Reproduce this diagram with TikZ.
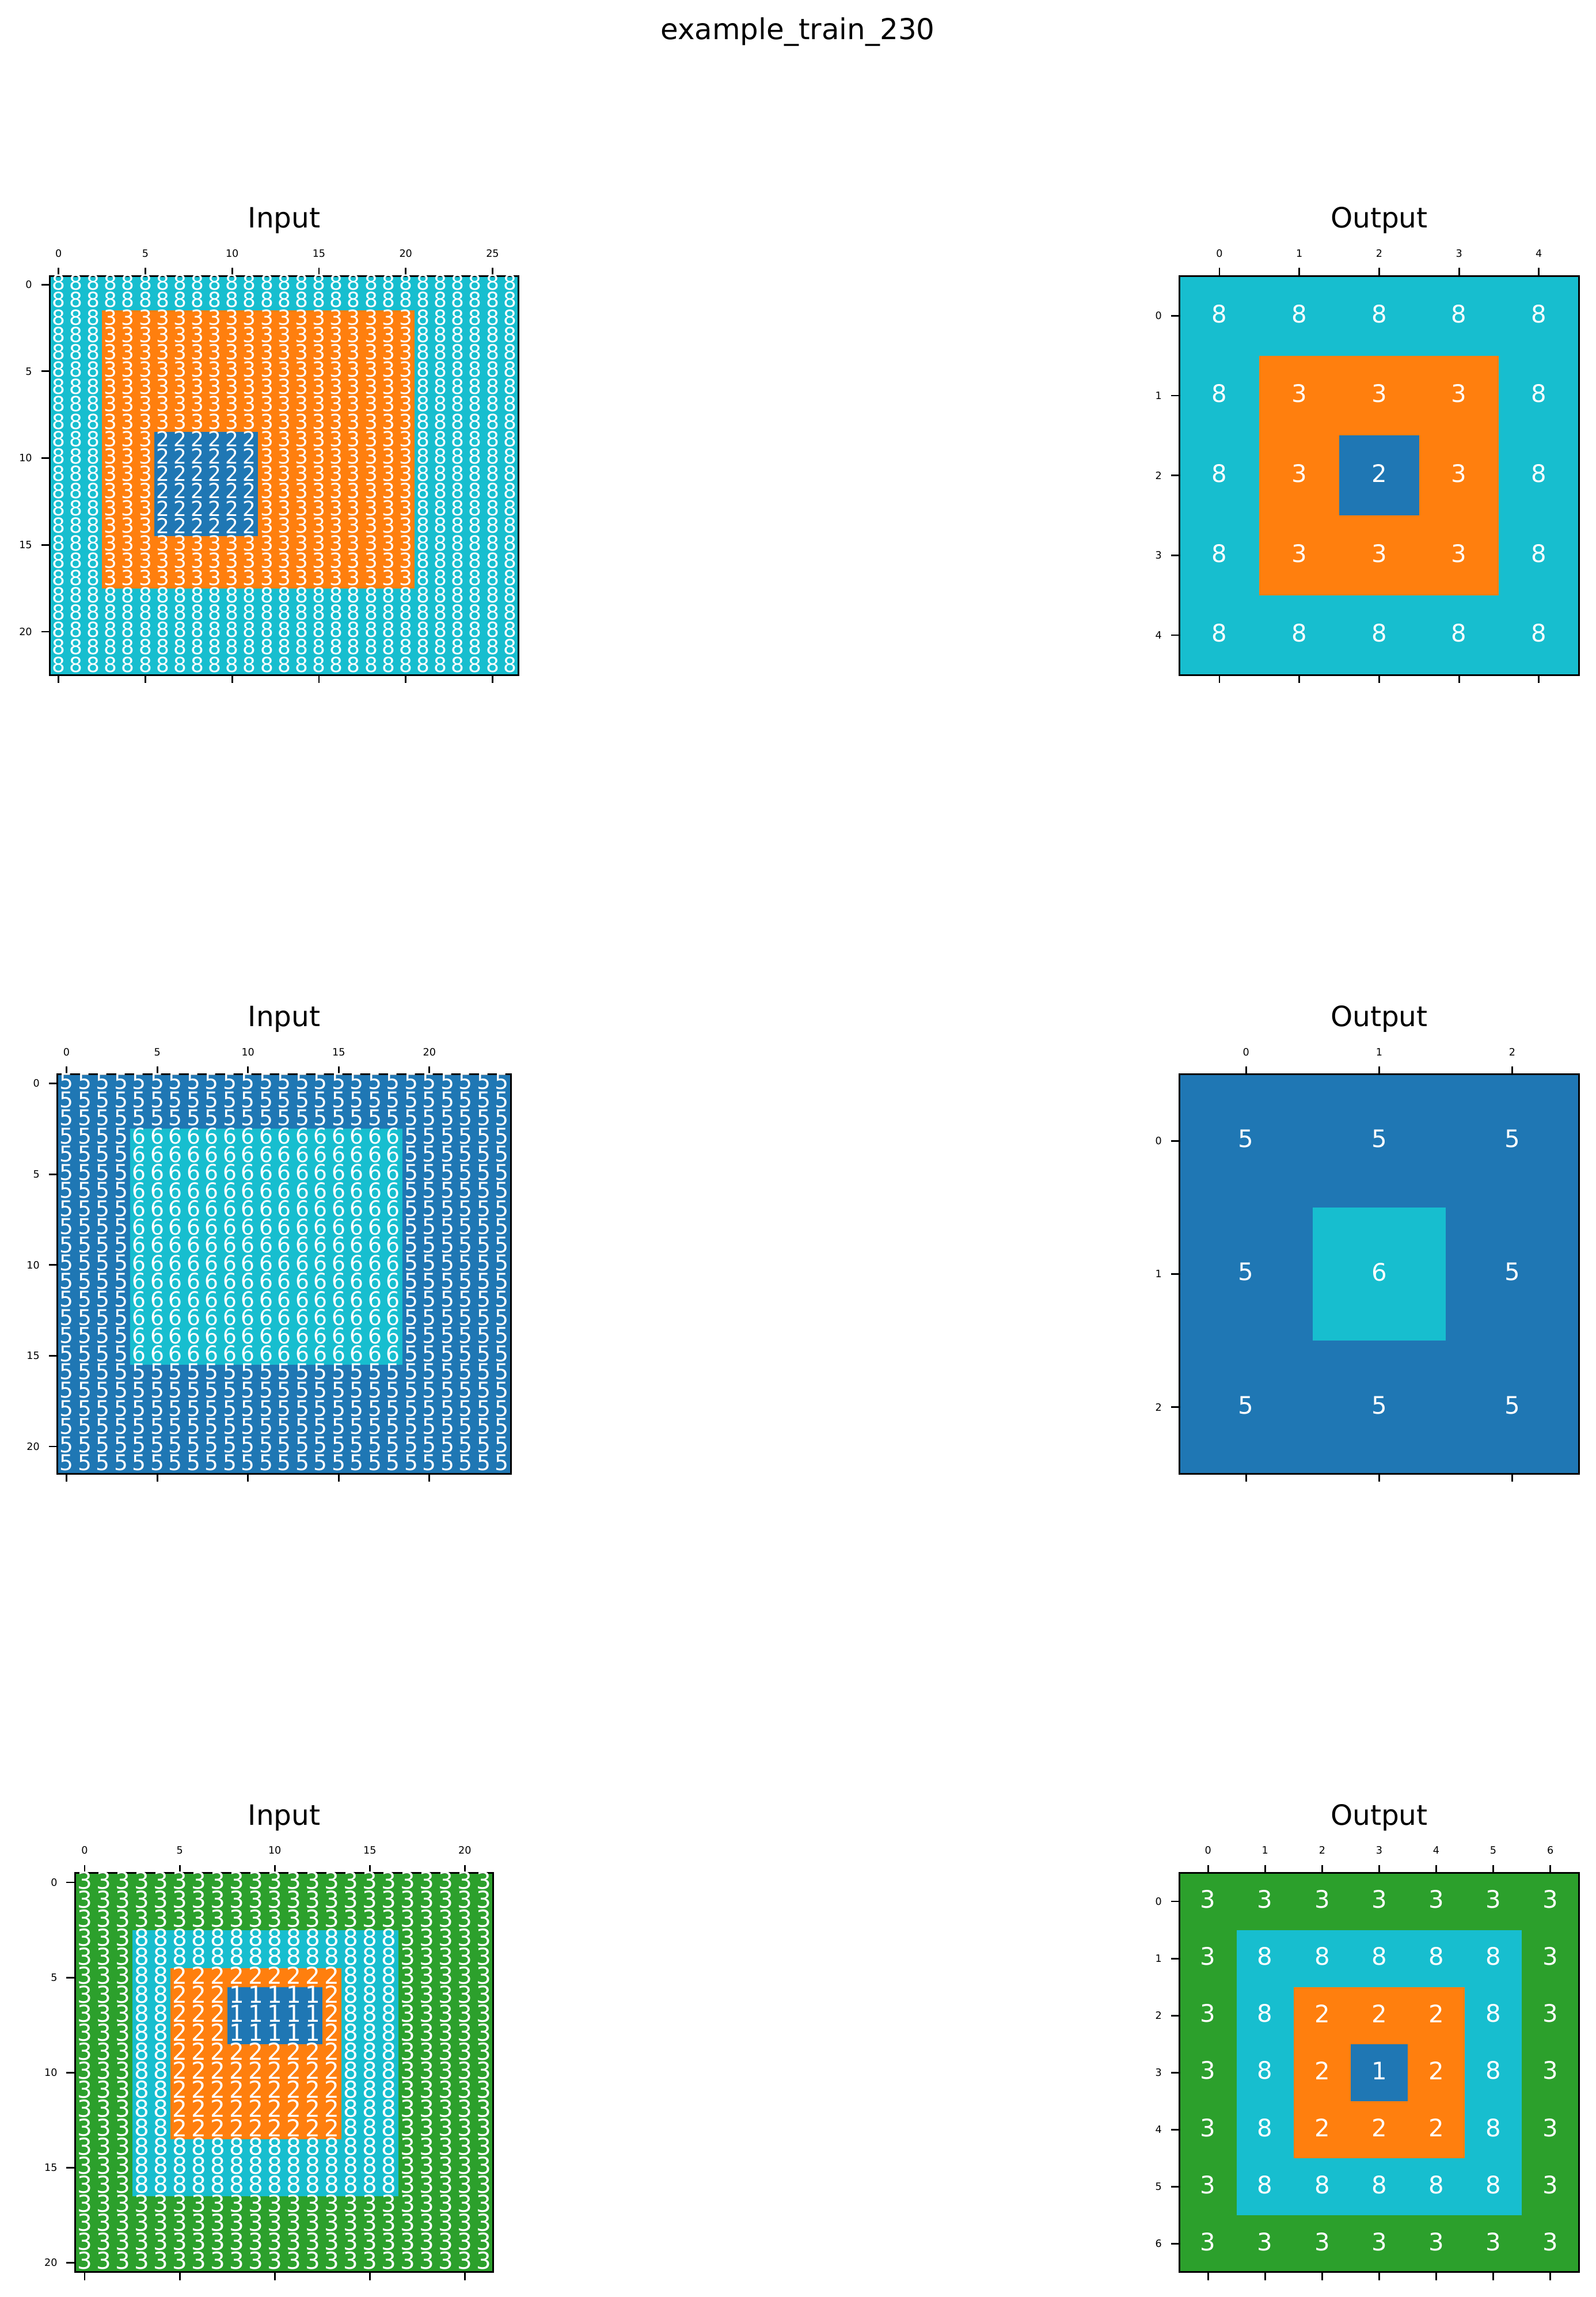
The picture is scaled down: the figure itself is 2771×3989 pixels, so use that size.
\documentclass[tikz,border=0pt]{standalone}
\usepackage{fontspec}
\setmainfont{DejaVu Sans}
\usepackage{xcolor}
\definecolor{tabblue}{RGB}{31,119,180}
\definecolor{taborange}{RGB}{255,127,14}
\definecolor{tabgreen}{RGB}{44,160,44}
\definecolor{tabcyan}{RGB}{23,190,207}

\begin{document}
\begin{tikzpicture}[x=0.01cm, y=-0.01cm, every node/.style={inner sep=0pt, outer sep=0pt}]
  \tikzset{
    frame/.style={draw=black, line width=0.85pt},
    tickmark/.style={line width=0.8pt},
    ticklabel/.style={font=\fontsize{5}{6}\selectfont},
    smallnum/.style={text=white, font=\fontsize{#1}{12}\selectfont, yshift=0.033cm},
    bignum/.style={text=white, font=\fontsize{11.9}{14}\selectfont, yshift=0.035cm},
    paneltitle/.style={anchor=base, yshift=0.83cm, font=\fontsize{13.8}{16}\selectfont}
  }
  \useasboundingbox (0,0) rectangle (2771,3989);
  \node[anchor=base, font=\fontsize{14.2}{17}\selectfont] (suptitle) at (1385.5,68) {example\_train\_230};

  % --- ROW 1: Input (27 x 23) ---
  \begin{scope}[shift={(86.7,479)}, x=0.3013cm, y=-0.3013cm]
    \node[paneltitle] (in1title) at (13.5,0) {Input};
    \fill[tabcyan] (0,0) rectangle (27,23);
    \fill[taborange] (3,2) rectangle (21,18);
    \fill[tabblue] (6,9) rectangle (12,15);
    \draw[frame] (0,0) rectangle (27,23);
    \foreach \x in {0,5,...,25} {
      \draw[tickmark] (\x+0.5,0) -- ++(0,0.14cm);
      \draw[tickmark] (\x+0.5,23) -- ++(0,-0.14cm);
      \node[ticklabel, anchor=base, yshift=0.326cm] (in1x\x) at (\x+0.5,0) {\x};
    }
    \foreach \y in {0,5,...,20} {
      \draw[tickmark] (0,\y+0.5) -- ++(-0.15cm,0);
      \node[ticklabel, anchor=east, xshift=-0.31cm] (in1y\y) at (0,\y+0.5) {\y};
    }
    \foreach \y in {0,...,22} {
      \foreach \x in {0,...,26} {
        \pgfmathtruncatemacro{\lvl}{(\x>2)*(\x<21)*(\y>1)*(\y<18)+(\x>5)*(\x<12)*(\y>8)*(\y<15)}
        \node[smallnum=10.2] (in1-\x-\y) at (\x+0.5,\y+0.5) {\ifcase\lvl\relax 8\or 3\or 2\fi};
      }
    }
  \end{scope}

  % --- ROW 1: Output (5 x 5) ---
  \begin{scope}[shift={(2048.7,479)}, x=1.386cm, y=-1.386cm]
    \node[paneltitle] (out1title) at (2.5,0) {Output};
    \fill[tabcyan] (0,0) rectangle (5,5);
    \fill[taborange] (1,1) rectangle (4,4);
    \fill[tabblue] (2,2) rectangle (3,3);
    \draw[frame] (0,0) rectangle (5,5);
    \foreach \x in {0,...,4} {
      \draw[tickmark] (\x+0.5,0) -- ++(0,0.14cm);
      \draw[tickmark] (\x+0.5,5) -- ++(0,-0.14cm);
      \node[ticklabel, anchor=base, yshift=0.326cm] (out1x\x) at (\x+0.5,0) {\x};
      \draw[tickmark] (0,\x+0.5) -- ++(-0.15cm,0);
      \node[ticklabel, anchor=east, xshift=-0.31cm] (out1y\x) at (0,\x+0.5) {\x};
    }
    \foreach \y in {0,...,4} {
      \foreach \x in {0,...,4} {
        \pgfmathtruncatemacro{\lvl}{(\x>0)*(\x<4)*(\y>0)*(\y<4)+(\x==2)*(\y==2)}
        \node[bignum] (out1-\x-\y) at (\x+0.5,\y+0.5) {\ifcase\lvl\relax 8\or 3\or 2\fi};
      }
    }
  \end{scope}

  % --- ROW 2: Input (25 x 22) ---
  \begin{scope}[shift={(99.75,1865.75)}, x=0.315cm, y=-0.315cm]
    \node[paneltitle] (in2title) at (12.5,0) {Input};
    \fill[tabblue] (0,0) rectangle (25,22);
    \fill[tabcyan] (4,3) rectangle (19,16);
    \draw[frame] (0,0) rectangle (25,22);
    \foreach \x in {0,5,...,20} {
      \draw[tickmark] (\x+0.5,0) -- ++(0,0.14cm);
      \draw[tickmark] (\x+0.5,22) -- ++(0,-0.14cm);
      \node[ticklabel, anchor=base, yshift=0.326cm] (in2x\x) at (\x+0.5,0) {\x};
    }
    \foreach \y in {0,5,...,20} {
      \draw[tickmark] (0,\y+0.5) -- ++(-0.15cm,0);
      \node[ticklabel, anchor=east, xshift=-0.31cm] (in2y\y) at (0,\y+0.5) {\y};
    }
    \foreach \y in {0,...,21} {
      \foreach \x in {0,...,24} {
        \pgfmathtruncatemacro{\lvl}{(\x>3)*(\x<19)*(\y>2)*(\y<16)}
        \node[smallnum=10.7] (in2-\x-\y) at (\x+0.5,\y+0.5) {\ifcase\lvl\relax 5\or 6\fi};
      }
    }
  \end{scope}

  % --- ROW 2: Output (3 x 3) ---
  \begin{scope}[shift={(2048.7,1865.75)}, x=2.31cm, y=-2.31cm]
    \node[paneltitle] (out2title) at (1.5,0) {Output};
    \fill[tabblue] (0,0) rectangle (3,3);
    \fill[tabcyan] (1,1) rectangle (2,2);
    \draw[frame] (0,0) rectangle (3,3);
    \foreach \x in {0,...,2} {
      \draw[tickmark] (\x+0.5,0) -- ++(0,0.14cm);
      \draw[tickmark] (\x+0.5,3) -- ++(0,-0.14cm);
      \node[ticklabel, anchor=base, yshift=0.326cm] (out2x\x) at (\x+0.5,0) {\x};
      \draw[tickmark] (0,\x+0.5) -- ++(-0.15cm,0);
      \node[ticklabel, anchor=east, xshift=-0.31cm] (out2y\x) at (0,\x+0.5) {\x};
    }
    \foreach \y in {0,...,2} {
      \foreach \x in {0,...,2} {
        \pgfmathtruncatemacro{\lvl}{(\x==1)*(\y==1)}
        \node[bignum] (out2-\x-\y) at (\x+0.5,\y+0.5) {\ifcase\lvl\relax 5\or 6\fi};
      }
    }
  \end{scope}

  % --- ROW 3: Input (22 x 21) ---
  \begin{scope}[shift={(130.5,3252.5)}, x=0.33cm, y=-0.33cm]
    \node[paneltitle] (in3title) at (11,0) {Input};
    \fill[tabgreen] (0,0) rectangle (22,21);
    \fill[tabcyan] (3,3) rectangle (17,17);
    \fill[taborange] (5,5) rectangle (14,14);
    \fill[tabblue] (8,6) rectangle (13,9);
    \draw[frame] (0,0) rectangle (22,21);
    \foreach \x in {0,5,...,20} {
      \draw[tickmark] (\x+0.5,0) -- ++(0,0.14cm);
      \draw[tickmark] (\x+0.5,21) -- ++(0,-0.14cm);
      \node[ticklabel, anchor=base, yshift=0.326cm] (in3x\x) at (\x+0.5,0) {\x};
      \draw[tickmark] (0,\x+0.5) -- ++(-0.15cm,0);
      \node[ticklabel, anchor=east, xshift=-0.31cm] (in3y\x) at (0,\x+0.5) {\x};
    }
    \foreach \y in {0,...,20} {
      \foreach \x in {0,...,21} {
        \pgfmathtruncatemacro{\lvl}{(\x>2)*(\x<17)*(\y>2)*(\y<17)+(\x>4)*(\x<14)*(\y>4)*(\y<14)+(\x>7)*(\x<13)*(\y>5)*(\y<9)}
        \node[smallnum=11.5] (in3-\x-\y) at (\x+0.5,\y+0.5) {\ifcase\lvl\relax 3\or 8\or 2\or 1\fi};
      }
    }
  \end{scope}

  % --- ROW 3: Output (7 x 7) ---
  \begin{scope}[shift={(2048.7,3252.5)}, x=0.99cm, y=-0.99cm]
    \node[paneltitle] (out3title) at (3.5,0) {Output};
    \fill[tabgreen] (0,0) rectangle (7,7);
    \fill[tabcyan] (1,1) rectangle (6,6);
    \fill[taborange] (2,2) rectangle (5,5);
    \fill[tabblue] (3,3) rectangle (4,4);
    \draw[frame] (0,0) rectangle (7,7);
    \foreach \x in {0,...,6} {
      \draw[tickmark] (\x+0.5,0) -- ++(0,0.14cm);
      \draw[tickmark] (\x+0.5,7) -- ++(0,-0.14cm);
      \node[ticklabel, anchor=base, yshift=0.326cm] (out3x\x) at (\x+0.5,0) {\x};
      \draw[tickmark] (0,\x+0.5) -- ++(-0.15cm,0);
      \node[ticklabel, anchor=east, xshift=-0.31cm] (out3y\x) at (0,\x+0.5) {\x};
    }
    \foreach \y in {0,...,6} {
      \foreach \x in {0,...,6} {
        \pgfmathtruncatemacro{\lvl}{(\x>0)*(\x<6)*(\y>0)*(\y<6)+(\x>1)*(\x<5)*(\y>1)*(\y<5)+(\x==3)*(\y==3)}
        \node[bignum] (out3-\x-\y) at (\x+0.5,\y+0.5) {\ifcase\lvl\relax 3\or 8\or 2\or 1\fi};
      }
    }
  \end{scope}
\end{tikzpicture}
\end{document}
